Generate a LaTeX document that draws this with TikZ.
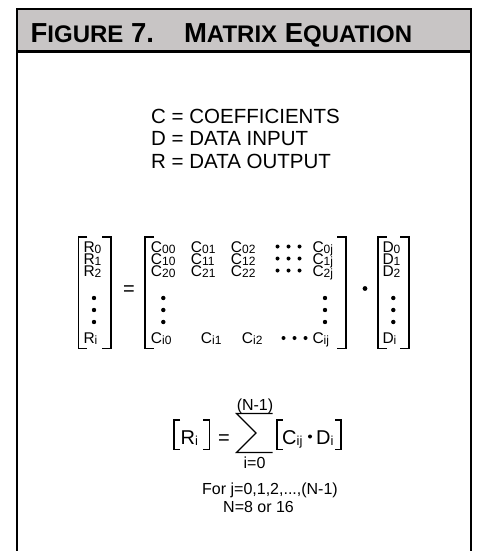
\documentclass[tikz,border=0pt]{standalone}
\usepackage{fontspec}
\setmainfont{Liberation Sans}
\newcommand{\idx}[2][12]{\raisebox{-1pt}{\fontsize{#1}{#1}\selectfont #2}}
\newcommand{\hdsmall}[1]{{\fontsize{24}{24}\selectfont #1}}
\definecolor{headGray}{RGB}{200,197,197}

\begin{document}
\begin{tikzpicture}[x = 1pt, y = -1pt]
	\tikzstyle{frameStyle} = [line width = 2.2pt, line cap = rect]
	\tikzstyle{bracketStyle} = [line width = 1.6pt]
	\tikzstyle{titleStyle} = [anchor = base west, inner sep = 0pt, font = \fontsize{27.5}{27.5}\selectfont\bfseries]
	\tikzstyle{legendStyle} = [anchor = base west, inner sep = 0pt, font = \fontsize{20.5}{20.5}\selectfont]
	\tikzstyle{entryStyle} = [anchor = base west, inner sep = 0pt, font = \fontsize{15.5}{15.5}\selectfont]
	\tikzstyle{sumStyle} = [anchor = base west, inner sep = 0pt, font = \fontsize{20}{20}\selectfont]
	\tikzstyle{noteStyle} = [anchor = base west, inner sep = 0pt, font = \fontsize{16}{16}\selectfont]
	\tikzstyle{limitStyle} = [anchor = base, inner sep = 0pt, font = \fontsize{16}{16}\selectfont]
	\useasboundingbox (0,0) rectangle (478,551);
	% header and frame
	\fill[headGray] (16.7,9) rectangle (471,51.5);
	\draw[frameStyle] (16.7,551) -- (16.7,9) -- (471,9) -- (471,551);
	\draw[frameStyle] (16.7,51.5) -- (471,51.5);
	\node[titleStyle] (title) at (30.5,42.7) {F\hdsmall{IGURE} 7.\hspace{30pt}M\hdsmall{ATRIX} E\hdsmall{QUATION}};
	% legend
	\node[legendStyle] (lgC) at (151,123) {C = COEFFICIENTS};
	\node[legendStyle] (lgD) at (151,145.5) {D = DATA INPUT};
	\node[legendStyle] (lgR) at (151,168) {R = DATA OUTPUT};
	% output vector
	\draw[bracketStyle] (87.3,237) -- (78.3,237) -- (78.3,348.3) -- (87.3,348.3);
	\draw[bracketStyle] (102,237) -- (111,237) -- (111,348.3) -- (102,348.3);
	\node[entryStyle] (r0) at (83.3,252.5) {R\idx{0}};
	\node[entryStyle] (r1) at (83.3,264.5) {R\idx{1}};
	\node[entryStyle] (r2) at (83.3,276.5) {R\idx{2}};
	\node[entryStyle] (ri) at (83.3,343.5) {R\idx{i}};
	\fill (94,298) circle (2.2) (94,310) circle (2.2) (94,322) circle (2.2);
	\node[sumStyle] (eqA) at (123,295) {=};
	% coefficient matrix
	\draw[bracketStyle] (154,237) -- (145,237) -- (145,348.3) -- (154,348.3);
	\draw[bracketStyle] (337,237) -- (346,237) -- (346,348.3) -- (337,348.3);
	\node[entryStyle] (c00) at (150.7,252.5) {C\idx{00}};
	\node[entryStyle] (c01) at (190.7,252.5) {C\idx{01}};
	\node[entryStyle] (c02) at (230.7,252.5) {C\idx{02}};
	\node[entryStyle] (c0j) at (312.3,252.5) {C\idx{0j}};
	\node[entryStyle] (c10) at (150.7,264.5) {C\idx{10}};
	\node[entryStyle] (c11) at (190.7,264.5) {C\idx{11}};
	\node[entryStyle] (c12) at (230.7,264.5) {C\idx{12}};
	\node[entryStyle] (c1j) at (312.3,264.5) {C\idx{1j}};
	\node[entryStyle] (c20) at (150.7,276.5) {C\idx{20}};
	\node[entryStyle] (c21) at (190.7,276.5) {C\idx{21}};
	\node[entryStyle] (c22) at (230.7,276.5) {C\idx{22}};
	\node[entryStyle] (c2j) at (312.3,276.5) {C\idx{2j}};
	\node[entryStyle] (ci0) at (150.7,343.5) {C\idx{i0}};
	\node[entryStyle] (ci1) at (200.7,343.5) {C\idx{i1}};
	\node[entryStyle] (ci2) at (241.7,343.5) {C\idx{i2}};
	\node[entryStyle] (cij) at (312.3,343.5) {C\idx{ij}};
	\fill (277.5,246.5) circle (2) (288.5,246.5) circle (2) (299.5,246.5) circle (2);
	\fill (277.5,258.5) circle (2) (288.5,258.5) circle (2) (299.5,258.5) circle (2);
	\fill (277.5,270.5) circle (2) (288.5,270.5) circle (2) (299.5,270.5) circle (2);
	\fill (283.5,338) circle (2) (294.5,338) circle (2) (305.5,338) circle (2);
	\fill (163.3,298) circle (2.2) (163.3,310) circle (2.2) (163.3,322) circle (2.2);
	\fill (325,298) circle (2.2) (325,310) circle (2.2) (325,322) circle (2.2);
	\fill (365,288.5) circle (2.4);
	% input vector
	\draw[bracketStyle] (386.7,237) -- (377.7,237) -- (377.7,348.3) -- (386.7,348.3);
	\draw[bracketStyle] (400,237) -- (409,237) -- (409,348.3) -- (400,348.3);
	\node[entryStyle] (d0) at (382.3,252.5) {D\idx{0}};
	\node[entryStyle] (d1) at (382.3,264.5) {D\idx{1}};
	\node[entryStyle] (d2) at (382.3,276.5) {D\idx{2}};
	\node[entryStyle] (di) at (382.3,343.5) {D\idx{i}};
	\fill (393.3,298) circle (2.2) (393.3,310) circle (2.2) (393.3,322) circle (2.2);
	% summation
	\draw[bracketStyle] (180,420) -- (174,420) -- (174,449.3) -- (180,449.3);
	\draw[bracketStyle] (203.3,420) -- (209.3,420) -- (209.3,449.3) -- (203.3,449.3);
	\node[sumStyle] (sumR) at (180.5,444) {R\idx[13]{i}};
	\node[sumStyle] (eqB) at (218,444) {=};
	\draw[line width = 1.1pt, line join = miter] (272.5,413.5) -- (236.5,413.5) -- (256,433) -- (236.5,452.5) -- (272.5,452.5);
	\node[limitStyle] (upper) at (255,410) {(N-1)};
	\node[limitStyle] (lower) at (254.5,468) {i=0};
	\draw[bracketStyle] (282.7,420) -- (276.7,420) -- (276.7,449.3) -- (282.7,449.3);
	\draw[bracketStyle] (335,420) -- (341,420) -- (341,449.3) -- (335,449.3);
	\node[sumStyle] (sumC) at (282,444) {C\idx[13]{ij}};
	\fill (310,436.5) circle (2);
	\node[sumStyle] (sumD) at (316,444) {D\idx[13]{i}};
	\node[noteStyle] (forJ) at (202,494.5) {For j=0,1,2,...,(N-1)};
	\node[noteStyle] (sizeN) at (223,512.3) {N=8 or 16};
\end{tikzpicture}
\end{document}
